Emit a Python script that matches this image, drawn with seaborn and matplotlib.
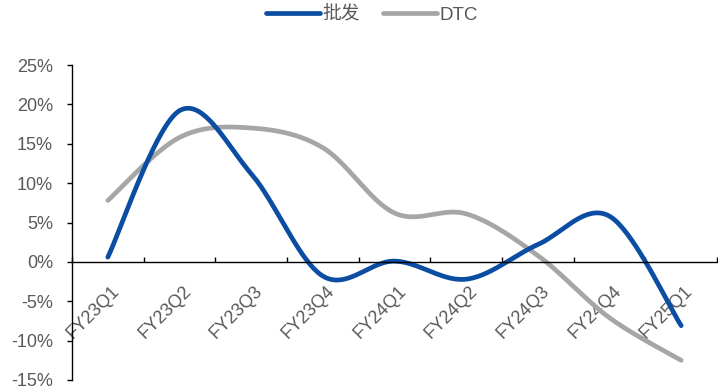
import numpy as np
import pandas as pd
import matplotlib
matplotlib.use("Agg")
import matplotlib.pyplot as plt
import matplotlib.transforms as mtransforms
import seaborn as sns
from matplotlib.lines import Line2D

categories = ["FY23Q1", "FY23Q2", "FY23Q3", "FY23Q4", "FY24Q1",
              "FY24Q2", "FY24Q3", "FY24Q4", "FY25Q1"]
wholesale = [0.6, 19.2, 11.2, -1.8, 0.1, -2.2, 2.2, 5.8, -8.1]
dtc = [7.8, 15.8, 17.0, 14.5, 6.2, 6.1, 0.8, -7.1, -12.5]
yticks = [-15, -10, -5, 0, 5, 10, 15, 20, 25]

BLUE = "#0B4DA2"
GRAY = "#A6A6A6"
TXT = "#595959"

sns.set_theme(style="white")
plt.rcParams["font.family"] = ["Liberation Sans", "Noto Sans CJK SC", "DejaVu Sans"]


def smooth(values, n=40):
    """Excel-style smoothed line (Bezier, control pts from neighbours)."""
    p = np.column_stack([np.arange(len(values)), np.asarray(values, float)])
    xs, ys = [], []
    for i in range(len(p) - 1):
        p0 = p[i - 1] if i > 0 else p[i]
        p1, p2 = p[i], p[i + 1]
        p3 = p[i + 2] if i + 2 < len(p) else p[i + 1]
        c1 = p1 + (p2 - p0) / 6.0
        c2 = p2 - (p3 - p1) / 6.0
        t = np.linspace(0, 1, n)[:, None]
        b = ((1 - t) ** 3) * p1 + 3 * ((1 - t) ** 2) * t * c1 + 3 * (1 - t) * t ** 2 * c2 + t ** 3 * p2
        xs.extend(b[:, 0]); ys.extend(b[:, 1])
    return np.array(xs), np.array(ys)


fig = plt.figure(figsize=(7.18, 3.87), dpi=100)
ax = fig.add_axes([72 / 718, 1 - 380 / 387, (717 - 72) / 718, (380 - 65) / 387])

for s in ["top", "right"]:
    ax.spines[s].set_visible(False)
ax.spines["bottom"].set_position(("data", 0))

for vals, col in [(dtc, GRAY), (wholesale, BLUE)]:
    sx, sy = smooth(vals)
    df = pd.DataFrame({"x": sx, "y": sy})
    sns.lineplot(data=df, x="x", y="y", sort=False, color=col, lw=3.4,
                 ax=ax, solid_capstyle="round", legend=False)

ax.set_xlim(-0.5, len(categories) - 0.5)
ax.set_ylim(-15, 25)
ax.set_xlabel("")
ax.set_ylabel("")

ax.set_yticks(yticks)
ax.set_yticklabels([f"{v}%" for v in yticks], fontsize=13, color=TXT)
ax.tick_params(axis="y", direction="out", length=3.6, width=1, color="black", pad=10, left=True)

ax.set_xticks(range(len(categories)))
ax.set_xticklabels(categories, rotation=45, ha="right", va="center",
                   rotation_mode="anchor", fontsize=13, color=TXT)
ax.set_xticks(np.arange(-0.5, len(categories), 1.0), minor=True)
ax.tick_params(axis="x", which="major", length=0, pad=19)
ax.tick_params(axis="x", which="minor", direction="in", length=3.6, width=1, color="black", bottom=True)
shift = mtransforms.ScaledTranslation(9 / 100, 0, fig.dpi_scale_trans)
for lab in ax.get_xticklabels():
    lab.set_transform(lab.get_transform() + shift)

ax.spines["bottom"].set_color("black")
ax.spines["left"].set_color("black")
ax.spines["bottom"].set_linewidth(1)
ax.spines["left"].set_linewidth(1)
ax.grid(False)

handles = [Line2D([], [], color=BLUE, lw=3.4), Line2D([], [], color=GRAY, lw=3.4)]
fig.legend(handles, ["批发", "DTC"], loc="center", bbox_to_anchor=(372 / 718, 1 - 15 / 387),
           ncol=2, frameon=False, fontsize=13.5, handlelength=2.9, handletextpad=0.15,
           columnspacing=1.2, labelcolor=TXT)

fig.savefig("out.png", dpi=100)
